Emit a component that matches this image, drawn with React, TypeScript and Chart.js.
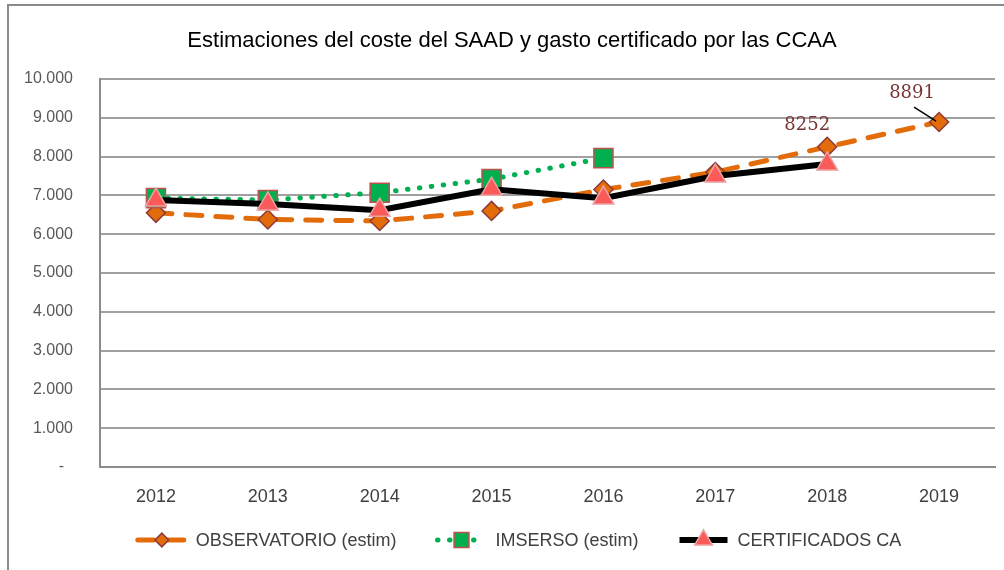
import React, { useEffect, useRef } from 'react';
import { Chart, registerables } from 'chart.js';
import { drawPoint } from 'chart.js/helpers';

Chart.register(...registerables);

const years = ['2012', '2013', '2014', '2015', '2016', '2017', '2018', '2019'];
const observatorio = [6550, 6380, 6340, 6600, 7150, 7600, 8252, 8891];
const imserso = [6930, 6880, 7070, 7420, 7960, null, null, null];
const certificados = [6880, 6780, 6620, 7160, 6930, 7500, 7810, null];
const seriesNames = ['OBSERVATORIO (estim)', 'IMSERSO (estim)', 'CERTIFICADOS CA'];
const labeledIndices = [6, 7];
const titleText = 'Estimaciones del coste del SAAD y gasto certificado por las CCAA';

const NARROW = "'Liberation Sans Narrow', 'Liberation Sans', Arial, sans-serif";

function fmt(v: number): string {
  if (v === 0) return '-  ';
  return String(v).replace(/\B(?=(\d{3})+(?!\d))/g, '.');
}

const legendMarkerScale = [0.72, 0.78, 0.85];

const overlayPlugin = {
  id: 'overlay',
  afterDatasetsDraw(chart: any) {
    const ctx = chart.ctx;
    const meta = chart.getDatasetMeta(0);
    ctx.save();
    ctx.font = '18px "DejaVu Serif", serif';
    ctx.fillStyle = '#7a3433';
    ctx.textAlign = 'center';
    ctx.textBaseline = 'middle';
    labeledIndices.forEach((idx, k) => {
      const pt = meta.data[idx];
      const text = String(observatorio[idx]);
      if (k === 0) {
        ctx.fillText(text, pt.x - 20, pt.y - 21);
      } else {
        ctx.fillText(text, pt.x - 27, pt.y - 29);
        ctx.beginPath();
        ctx.strokeStyle = '#000';
        ctx.lineWidth = 1.5;
        ctx.moveTo(pt.x - 25, pt.y - 15);
        ctx.lineTo(pt.x - 3, pt.y - 1);
        ctx.stroke();
      }
    });
    ctx.restore();
  },
  afterDraw(chart: any) {
    const ctx = chart.ctx;
    // title
    ctx.save();
    ctx.font = `22px ${NARROW}`;
    ctx.fillStyle = '#000';
    ctx.textAlign = 'center';
    ctx.textBaseline = 'middle';
    ctx.fillText(titleText, 512, 41);
    ctx.restore();

    // legend
    const y = 540;
    const lineW = 54;
    const gapText = 7;
    const gapItem = 38;
    const legendFont = `18px ${NARROW}`;
    ctx.save();
    ctx.font = legendFont;
    const widths = seriesNames.map((n) => lineW + gapText + ctx.measureText(n).width);
    const total = widths.reduce((a, b) => a + b, 0) + gapItem * (widths.length - 1);
    let x = 518 - total / 2;
    chart.data.datasets.forEach((ds: any, i: number) => {
      ctx.save();
      ctx.beginPath();
      ctx.strokeStyle = ds.borderColor;
      ctx.lineWidth = ds.borderWidth;
      ctx.lineCap = ds.borderCapStyle || 'butt';
      ctx.setLineDash(ds.borderDash || []);
      ctx.moveTo(x + 3, y);
      ctx.lineTo(x + lineW - 3, y);
      ctx.stroke();
      ctx.restore();
      ctx.save();
      ctx.fillStyle = ds.pointBackgroundColor;
      ctx.strokeStyle = ds.pointBorderColor;
      ctx.lineWidth = ds.pointBorderWidth;
      ctx.setLineDash([]);
      drawPoint(
        ctx,
        {
          pointStyle: ds.pointStyle,
          rotation: 0,
          borderWidth: ds.pointBorderWidth,
          radius: ds.pointRadius * legendMarkerScale[i],
        } as any,
        x + lineW / 2,
        y
      );
      ctx.restore();
      ctx.fillStyle = '#404040';
      ctx.textAlign = 'left';
      ctx.textBaseline = 'middle';
      ctx.font = legendFont;
      ctx.fillText(seriesNames[i], x + lineW + gapText, y + 1);
      x += widths[i] + gapItem;
    });
    ctx.restore();
  },
};

export default function App() {
  const ref = useRef<HTMLCanvasElement | null>(null);
  useEffect(() => {
    if (!ref.current) return;
    const chart = new Chart(ref.current, {
      type: 'line',
      data: {
        labels: years,
        datasets: [
          {
            label: seriesNames[0],
            data: observatorio,
            borderColor: '#e36c0a',
            borderWidth: 5,
            borderDash: [16, 14],
            borderCapStyle: 'round',
            pointStyle: 'rectRot',
            pointRadius: 9.5,
            pointBackgroundColor: '#e36c0a',
            pointBorderColor: '#8c3a38',
            pointBorderWidth: 1.5,
            order: 3,
          } as any,
          {
            label: seriesNames[1],
            data: imserso,
            borderColor: '#00b050',
            borderWidth: 5,
            borderDash: [0.5, 11.5],
            borderCapStyle: 'round',
            pointStyle: 'rect',
            pointRadius: 13.5,
            pointBackgroundColor: '#00b050',
            pointBorderColor: '#c0504d',
            pointBorderWidth: 1.5,
            order: 2,
          } as any,
          {
            label: seriesNames[2],
            data: certificados,
            borderColor: '#000000',
            borderWidth: 6,
            pointStyle: 'triangle',
            pointRadius: 12,
            pointBackgroundColor: '#fa5a5a',
            pointBorderColor: '#eca2a2',
            pointBorderWidth: 1.5,
            order: 1,
          } as any,
        ],
      },
      options: {
        animation: false,
        responsive: false,
        layout: { autoPadding: false, padding: { left: 0, right: 9, top: 79, bottom: 0 } },
        plugins: {
          legend: { display: false },
          tooltip: { enabled: false },
          title: { display: false },
        },
        scales: {
          x: {
            type: 'category',
            offset: true,
            grid: { display: false, drawTicks: false },
            border: { display: true, color: '#8c8c8c', width: 2 },
            ticks: { color: '#404040', font: { family: NARROW, size: 18 }, padding: 19, maxRotation: 0 },
            afterFit(scale: any) {
              scale.height = 103;
              scale.paddingLeft = 0;
              scale.paddingRight = 0;
            },
          },
          y: {
            min: 0,
            max: 10000,
            grid: { color: '#a0a0a0', lineWidth: 2, drawTicks: false },
            border: { display: true, color: '#8c8c8c', width: 2 },
            ticks: {
              stepSize: 1000,
              color: '#595959',
              font: { family: NARROW, size: 16 },
              padding: 27,
              callback: (v: any) => fmt(Number(v)),
            },
            afterFit(scale: any) {
              scale.width = 100;
              scale.paddingTop = 0;
              scale.paddingBottom = 0;
            },
          },
        },
      },
      plugins: [overlayPlugin],
    });
    return () => chart.destroy();
  }, []);

  return (
    <div style={{ position: 'fixed', left: 0, top: 0, width: 1004, height: 570, background: '#fff', overflow: 'hidden' }}>
      <div
        style={{
          position: 'absolute',
          left: 7,
          top: 4,
          width: 1100,
          height: 700,
          borderTop: '2px solid #8a8a8a',
          borderLeft: '2px solid #8a8a8a',
        }}
      />
      <canvas ref={ref} width={1004} height={570} style={{ position: 'absolute', left: 0, top: 0 }} />
    </div>
  );
}
